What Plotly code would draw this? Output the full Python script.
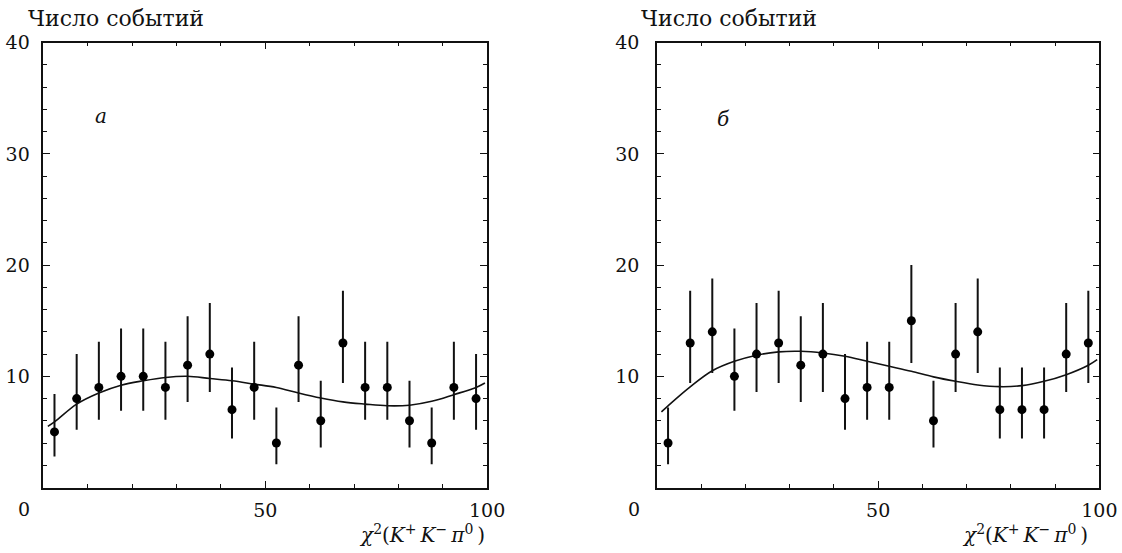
import plotly.graph_objects as go

W, H = 1122, 553

# bin centres of the chi^2 histogram
chi2_bins = [2.5, 7.5, 12.5, 17.5, 22.5, 27.5, 32.5, 37.5, 42.5, 47.5,
             52.5, 57.5, 62.5, 67.5, 72.5, 77.5, 82.5, 87.5, 92.5, 97.5]

# panel "а": event counts and asymmetric (Poisson) errors
counts_a = [5, 8, 9, 10, 10, 9, 11, 12, 7, 9, 4, 11, 6, 13, 9, 9, 6, 4, 9, 8]
err_up_a = [3.4, 4.0, 4.1, 4.3, 4.3, 4.1, 4.4, 4.6, 3.8, 4.1,
            3.2, 4.4, 3.6, 4.7, 4.1, 4.1, 3.6, 3.2, 4.1, 4.0]
err_dn_a = [2.2, 2.8, 2.9, 3.1, 3.1, 2.9, 3.3, 3.4, 2.6, 2.9,
            1.9, 3.3, 2.4, 3.6, 2.9, 2.9, 2.4, 1.9, 2.9, 2.8]

# panel "б"
counts_b = [4, 13, 14, 10, 12, 13, 11, 12, 8, 9, 9, 15, 6, 12, 14, 7, 7, 7, 12, 13]
err_up_b = [3.2, 4.7, 4.8, 4.3, 4.6, 4.7, 4.4, 4.6, 4.0, 4.1,
            4.1, 5.0, 3.6, 4.6, 4.8, 3.8, 3.8, 3.8, 4.6, 4.7]
err_dn_b = [1.9, 3.6, 3.7, 3.1, 3.4, 3.6, 3.3, 3.4, 2.8, 2.9,
            2.9, 3.8, 2.4, 3.4, 3.7, 2.6, 2.6, 2.6, 3.4, 3.6]

# fitted curves
fit_x = [1, 2.5, 7.5, 12.5, 17.5, 22.5, 27.5, 32.5, 37.5, 42.5, 47.5,
         52.5, 57.5, 62.5, 67.5, 72.5, 77.5, 82.5, 87.5, 92.5, 97.5, 99.5]
fit_a = [5.5, 5.9, 7.5, 8.5, 9.2, 9.6, 9.9, 10.0, 9.8, 9.6, 9.3,
         9.0, 8.5, 8.05, 7.7, 7.5, 7.35, 7.4, 7.75, 8.35, 9.0, 9.4]
fit_b = [6.8, 7.35, 9.05, 10.5, 11.35, 11.9, 12.2, 12.25, 12.1, 11.8, 11.35,
         10.9, 10.45, 9.95, 9.55, 9.22, 9.07, 9.16, 9.55, 10.15, 11.0, 11.5]

y_ticks = [10, 20, 30, 40]
y_ticktext = ["10", "20", "30", "40"]
x_ticks = [50, 100]
x_ticktext = ["50", "100"]

FONT = "DejaVu Serif"
FS = 19
INK = "#111111"

fig = go.Figure()
for xa, ya, cnt, eu, ed, fit in [("x", "y", counts_a, err_up_a, err_dn_a, fit_a),
                                 ("x2", "y2", counts_b, err_up_b, err_dn_b, fit_b)]:
    fig.add_trace(go.Scatter(
        x=fit_x, y=fit, mode="lines", line=dict(color=INK, width=1.6, shape="spline"),
        xaxis=xa, yaxis=ya, showlegend=False, hoverinfo="skip"))
    fig.add_trace(go.Scatter(
        x=chi2_bins, y=cnt, mode="markers", marker=dict(color="black", size=9),
        error_y=dict(type="data", symmetric=False, array=eu, arrayminus=ed,
                     color=INK, thickness=2, width=0),
        xaxis=xa, yaxis=ya, showlegend=False))


def px_x(p):
    return p / W


def px_y(p):
    return 1 - p / H


def xaxis_style(domain, anchor):
    return dict(
        domain=domain, anchor=anchor, range=[0, 100], tickvals=x_ticks, ticktext=x_ticktext,
        ticks="inside", ticklen=7, tickwidth=1.2, tickcolor=INK,
        minor=dict(dtick=10, tick0=0, ticks="inside", ticklen=4, tickwidth=1.2, tickcolor=INK),
        showline=True, linecolor=INK, linewidth=1.6, mirror="allticks",
        showgrid=False, zeroline=False, ticklabelstandoff=5,
        tickfont=dict(family=FONT, size=FS, color=INK))


def yaxis_style(anchor, standoff):
    return dict(
        domain=[px_y(486.2), px_y(32.3)], anchor=anchor, range=[0, 40],
        tickvals=y_ticks, ticktext=y_ticktext,
        ticks="inside", ticklen=7, tickwidth=1.2, tickcolor=INK,
        minor=dict(dtick=2, tick0=0, ticks="inside", ticklen=4, tickwidth=1.2, tickcolor=INK),
        showline=True, linecolor=INK, linewidth=1.6, mirror="allticks",
        showgrid=False, zeroline=False, ticklabelstandoff=standoff,
        tickfont=dict(family=FONT, size=FS, color=INK))


fig.update_layout(
    width=W, height=H, autosize=False, margin=dict(l=0, r=0, t=0, b=0),
    paper_bgcolor="white", plot_bgcolor="white",
    xaxis=xaxis_style([px_x(44.1), px_x(495.1)], "y"), yaxis=yaxis_style("x", 8),
    xaxis2=xaxis_style([px_x(667.7), px_x(1117.3)], "y2"), yaxis2=yaxis_style("x2", 12))

ann = []
axis_title = ("<i>χ</i><sup>2</sup>(<i>K</i><sup>+</sup>\u2009<i>K</i><sup>−</sup>\u2009"
              "<i>π</i><sup>0</sup>\u2009)")
# axis ref, y-title left edge, panel letter, letter centre, title shift, "0" shift
for xref, left_px, letter, (lx, ly), title_shift, zero_shift in [
        ("x", 26, "а", (102.3, 107.3), 0, -11), ("x2", 649, "б", (735, 110), -9.4, -14.6)]:
    ann.append(dict(text="Число событий", xref="paper", yref="paper",
                    x=px_x(left_px), y=px_y(7.5), xanchor="left", yanchor="middle",
                    showarrow=False, font=dict(family=FONT, size=22, color=INK)))
    ann.append(dict(text="<i>" + letter + "</i>", xref="paper", yref="paper",
                    x=px_x(lx), y=px_y(ly), xanchor="center", yanchor="middle",
                    showarrow=False, font=dict(family=FONT, size=20, color=INK)))
    ann.append(dict(text=axis_title, xref=xref + " domain", yref="paper",
                    x=1, y=px_y(533.5), xanchor="right", yanchor="middle", xshift=title_shift,
                    showarrow=False, font=dict(family=FONT, size=20, color=INK)))
    ann.append(dict(text="0", xref=xref + " domain", yref="paper",
                    x=0, y=px_y(508), xanchor="right", yanchor="middle", xshift=zero_shift,
                    showarrow=False, font=dict(family=FONT, size=FS, color=INK)))
fig.update_layout(annotations=ann)

fig.write_html("out.html")
